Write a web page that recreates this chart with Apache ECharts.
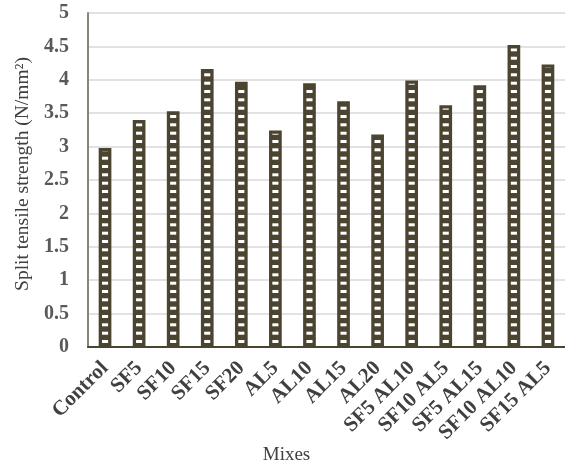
<!DOCTYPE html>
<html><head><meta charset="utf-8">
<script src="https://cdn.jsdelivr.net/npm/echarts@6/dist/echarts.min.js"></script>
<style>html,body{margin:0;padding:0;background:#fff}#c{width:565px;height:466px}</style>
</head><body><div id="c"></div>
<script>
const categories = ["Control","SF5","SF10","SF15","SF20","AL5","AL10","AL15","AL20","SF5 AL10","SF10 AL5","SF5 AL15","SF10 AL10","SF15 AL5"];
const values = [2.98,3.40,3.53,4.16,3.97,3.24,3.95,3.68,3.18,3.99,3.62,3.92,4.52,4.23];
const yTicks = [0,0.5,1,1.5,2,2.5,3,3.5,4,4.5,5];

const dark = '#4b4431';
const pc = document.createElement('canvas');
pc.width = 4; pc.height = 25;
const g = pc.getContext('2d');
g.fillStyle = dark; g.fillRect(0,0,4,25);
g.fillStyle = '#ffffff';
[-1.7, 6.7, 15.0, 23.3].forEach(y => g.fillRect(0, y, 4, 3));

const chart = echarts.init(document.getElementById('c'));
chart.setOption({
  animation: false,
  grid: {left: 88, right: 0, top: 13, bottom: 119, containLabel: false, outerBoundsMode: 'none'},
  xAxis: {
    type: 'category', data: categories,
    name: 'Mixes', nameLocation: 'middle', nameGap: 99, nameMoveOverlap: false,
    nameTextStyle: {fontFamily: 'Liberation Serif', fontSize: 19, color: '#404040', padding: [0, 80, 0, 0]},
    axisLine: {lineStyle: {color: dark, width: 2}},
    axisTick: {show: false},
    axisLabel: {rotate: 45, interval: 0, margin: 18, fontFamily: 'Liberation Serif', fontWeight: 'bold', fontSize: 21, color: '#404040'}
  },
  yAxis: {
    type: 'value', min: 0, max: 5, interval: 0.5,
    name: 'Split tensile strength (N/mm²)', nameLocation: 'middle', nameGap: 55, nameMoveOverlap: false,
    nameTextStyle: {fontFamily: 'Liberation Serif', fontSize: 19.5, color: '#404040', padding: [0, 0, 0, 12]},
    axisLine: {show: true, lineStyle: {color: '#8a8676', width: 2}},
    axisTick: {show: false},
    splitLine: {lineStyle: {color: '#d9d9d9', width: 1.5}},
    axisLabel: {margin: 19, fontFamily: 'Liberation Serif', fontWeight: 'bold', fontSize: 20, color: '#595959',
      formatter: v => yTicks.includes(v) ? String(v) : ''}
  },
  series: [{
    type: 'bar', data: values, barWidth: 12.7,
    itemStyle: {color: {image: pc, repeat: 'repeat'}, borderColor: dark, borderWidth: 3.3}
  }]
});
</script></body></html>
